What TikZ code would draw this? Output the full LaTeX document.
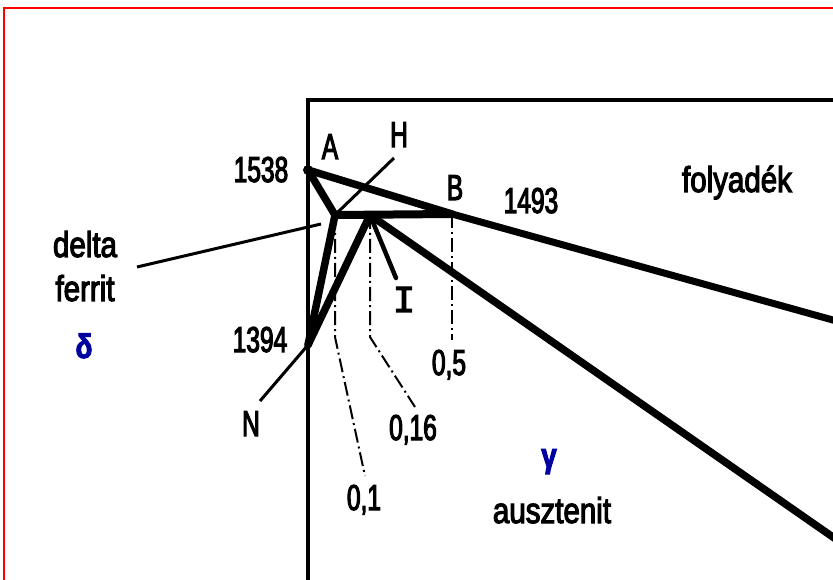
\documentclass[tikz,border=0pt]{standalone}
\usepackage{fontspec}
\setmainfont{Liberation Sans}[FakeStretch=0.82,FakeBold=3]
\newfontfamily\digfont{Liberation Sans}[FakeStretch=0.68,FakeBold=3]
\newfontfamily\serifIfont{Liberation Mono}[FakeBold=3]
\definecolor{greekblue}{RGB}{0,0,160}
\definecolor{borderred}{RGB}{255,0,0}
\tikzset{
  lbl/.style={anchor=base, inner sep=0pt, font=\fontsize{36}{40}\selectfont},
  num/.style={anchor=base, inner sep=0pt, font=\digfont\fontsize{36}{40}\selectfont},
  greek/.style={anchor=base, inner sep=0pt, text=greekblue, font=\bfseries\fontsize{34}{40}\selectfont},
  thickln/.style={line width=7.5pt, line join=round, line cap=round},
  medln/.style={line width=4.5pt, line cap=round},
  thinln/.style={line width=3pt},
  framelin/.style={line width=4pt},
  ddline/.style={line width=2pt, dash pattern=on 14pt off 4pt on 2pt off 4pt}
}
\begin{document}
\begin{tikzpicture}[x=1pt,y=-1pt]
\useasboundingbox (0,0) rectangle (833,580);
\clip (0,0) rectangle (833,580);
% red border
\coordinate (rb1) at (4,590);
\coordinate (rb2) at (4,8);
\coordinate (rb3) at (840,8);
\draw[borderred, line width=2.5pt] (rb1) -- (rb2) -- (rb3);
% frame
\coordinate (f1) at (308,590);
\coordinate (f2) at (308,100);
\coordinate (f3) at (840,100);
\draw[framelin] (f1) -- (f2) -- (f3);
% key points
\coordinate (A) at (308,170);
\coordinate (H) at (335,215);
\coordinate (J) at (370,215);
\coordinate (B) at (452,214);
\coordinate (N) at (308,345);
\coordinate (R) at (840,322);
\coordinate (E) at (840,542);
% dash-dot composition lines
\coordinate (h1) at (335,337);
\coordinate (h2) at (365,476);
\coordinate (j1) at (370,337);
\coordinate (j2) at (415,407);
\coordinate (b1) at (452,340);
\draw[ddline] (H) -- (h1) -- (h2);
\draw[ddline] (J) -- (j1) -- (j2);
\draw[ddline] (B) -- (b1);
% phase lines
\draw[thickln] (A) -- (B);
\draw[line width=7pt, line cap=round] (B) -- (R);
\draw[thickln] (A) -- (H) -- (N);
\draw[thickln] (J) -- (N);
\draw[line width=8pt] (H) -- (B);
\draw[thickln] (J) -- (E);
\fill (A) circle (5pt);
% leaders
\coordinate (hl) at (394,158);
\coordinate (hle) at (338,212);
\draw[thinln] (hl) -- (hle);
\coordinate (dl) at (137,267);
\coordinate (dle) at (321,224);
\draw[thinln] (dl) -- (dle);
\coordinate (nl) at (260,401);
\draw[thinln] (nl) -- (N);
\coordinate (il) at (396,278);
\draw[medln] (J) -- (il);
% labels
\node[num] (t1538) at (261,182) {1538};
\node[num] (tA) at (330,159) {A};
\node[num] (tH) at (399,147) {H};
\node[num] (tB) at (455,200) {B};
\node[num] (t1493) at (531,213) {1493};
\node[lbl] (tfoly) at (737,192) {folyadék};
\node[lbl] (tdelta) at (85,257) {delta};
\node[lbl] (tferrit) at (85,301) {ferrit};
\node[greek] (tdel) at (84,358) {δ};
\node[num] (t1394) at (260,352) {1394};
\node[num] (tN) at (251,436) {N};
\node[anchor=base, inner sep=0pt, font=\serifIfont\fontsize{38}{40}\selectfont] (tI) at (404,312) {I};
\node[num] (t01) at (364,510) {0,1};
\node[num] (t016) at (413,440) {0,16};
\node[num] (t05) at (449,375) {0,5};
\node[greek] (tgam) at (549,467) {γ};
\node[lbl] (taus) at (552,523) {ausztenit};
\end{tikzpicture}
\end{document}
